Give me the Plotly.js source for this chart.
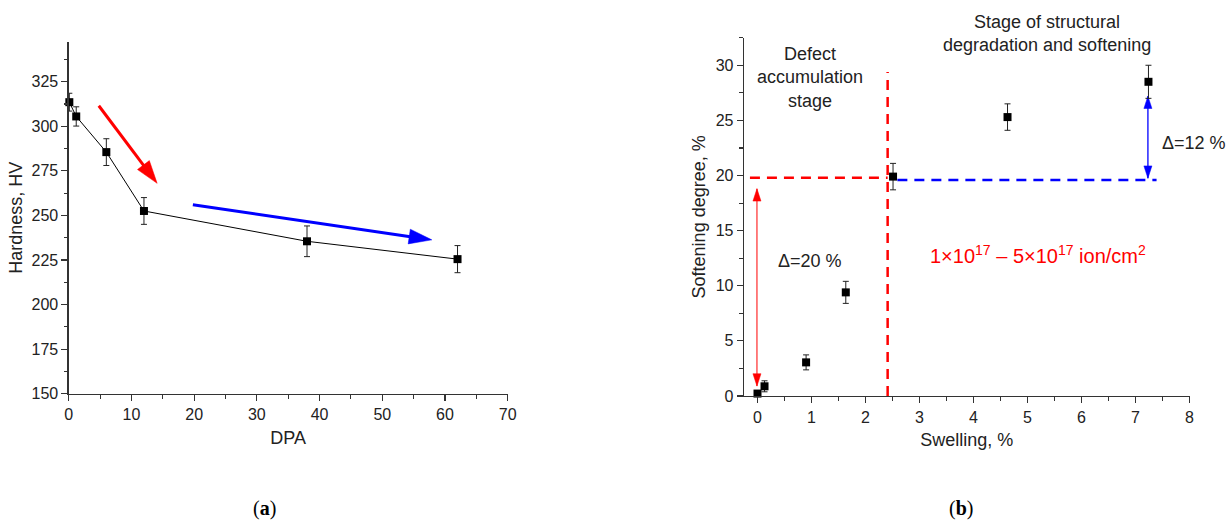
<!DOCTYPE html>
<html>
<head>
<meta charset="utf-8">
<script src="https://cdn.plot.ly/plotly-3.0.1.min.js"></script>
<style>html,body{margin:0;padding:0;background:#fff;}#chart{width:1230px;height:522px;}</style>
</head>
<body>
<div id="chart"></div>
<script>
// ---- Panel (a): Hardness vs DPA ----
const dpa = [0.1, 1.2, 6, 12, 38, 62];
const hardness = [313.5, 305.5, 285.5, 252.5, 235.5, 225.5];
const hardnessErr = [5, 5.4, 7.5, 7.5, 8.6, 7.6];
const redArrowAX = [4.8, 14.1];
const redArrowAY = [311.5, 268];
const blueArrowAX = [19.8, 57.9];
const blueArrowAY = [256, 236.3];

// ---- Panel (b): Softening degree vs Swelling ----
const swelling = [0.0, 0.13, 0.9, 1.635, 2.51, 4.63, 7.24];
const softening = [0.22, 0.88, 3.05, 9.4, 19.9, 25.3, 28.5];
const softeningErr = [0.25, 0.5, 0.68, 1.0, 1.2, 1.2, 1.5];
const redVLineX = [2.41, 2.41], redVLineY = [0, 29.4];
const redHLineX = [-0.14, 2.41], redHLineY = [19.8, 19.8];
const blueHLineX = [2.59, 7.39], blueHLineY = [19.6, 19.6];
const redDeltaX = [-0.01, -0.01], redDeltaY = [0.9, 18.8];
const blueDeltaX = [7.23, 7.23], blueDeltaY = [19.75, 27.2];

const font = 'Liberation Sans, Arial, sans-serif';
const axisCommon = {
  showline: true, linecolor: '#333', linewidth: 1.3, mirror: false,
  ticks: 'outside', ticklen: 6, tickwidth: 1.2, tickcolor: '#333',
  showgrid: false, zeroline: false,
  tickfont: {family: font, size: 16, color: '#222'},
  minor: {ticks: 'outside', ticklen: 3.5, tickwidth: 1.1, tickcolor: '#333'}
};
const titleFont = {family: font, size: 18, color: '#222'};

function arrowTrace(xs, ys, xa, ya, color, width, size) {
  return {
    x: xs, y: ys, xaxis: xa, yaxis: ya, type: 'scatter', mode: 'lines+markers',
    line: {color: color, width: width},
    marker: {symbol: 'arrow', size: [0, size], color: color, opacity: 1, angleref: 'previous', line: {width: 0.5, color: color}},
    opacity: 1, cliponaxis: false, showlegend: false, hoverinfo: 'skip'
  };
}
function doubleArrowTrace(xs, ys, xa, ya, color, width, size) {
  return {
    x: xs, y: ys, xaxis: xa, yaxis: ya, type: 'scatter', mode: 'lines+markers',
    line: {color: color, width: width},
    marker: {symbol: 'arrow', size: size, color: color, opacity: 1, angle: [180, 0], line: {width: 0.5, color: color}},
    opacity: 1, cliponaxis: false, showlegend: false, hoverinfo: 'skip'
  };
}

const traces = [
  {
    x: dpa, y: hardness, xaxis: 'x', yaxis: 'y', type: 'scatter', mode: 'lines+markers',
    line: {color: '#000', width: 1},
    marker: {symbol: 'square', size: 8, color: '#000'},
    error_y: {type: 'data', array: hardnessErr, visible: true, color: '#222', thickness: 1, width: 3},
    cliponaxis: false, showlegend: false
  },
  arrowTrace(redArrowAX, redArrowAY, 'x', 'y', '#ff0000', 3, 24),
  arrowTrace(blueArrowAX, blueArrowAY, 'x', 'y', '#0000ff', 3, 24),
  {
    x: redVLineX, y: redVLineY, xaxis: 'x2', yaxis: 'y2', mode: 'lines',
    line: {color: '#ff0000', width: 2.5, dash: '10px,7px'}, showlegend: false
  },
  {
    x: redHLineX, y: redHLineY, xaxis: 'x2', yaxis: 'y2', mode: 'lines',
    line: {color: '#ff0000', width: 2.5, dash: '10px,7px'}, showlegend: false
  },
  {
    x: blueHLineX, y: blueHLineY, xaxis: 'x2', yaxis: 'y2', mode: 'lines',
    line: {color: '#0000ff', width: 2.5, dash: '10px,7px'}, showlegend: false
  },
  doubleArrowTrace(redDeltaX, redDeltaY, 'x2', 'y2', '#ff0000', 1, 13),
  doubleArrowTrace(blueDeltaX, blueDeltaY, 'x2', 'y2', '#0000ff', 1.3, 13),
  {
    x: swelling, y: softening, xaxis: 'x2', yaxis: 'y2', type: 'scatter', mode: 'markers',
    marker: {symbol: 'square', size: 8, color: '#000'},
    error_y: {type: 'data', array: softeningErr, visible: true, color: '#222', thickness: 1, width: 3},
    cliponaxis: false, showlegend: false
  }
];

const layout = {
  width: 1230, height: 522,
  margin: {l: 0, r: 0, t: 0, b: 0},
  paper_bgcolor: '#fff', plot_bgcolor: '#fff',
  font: {family: font, color: '#222'},
  showlegend: false,
  xaxis: Object.assign({}, axisCommon, {
    domain: [68.7/1230, 507.7/1230], range: [0, 70], dtick: 10,
    minor: Object.assign({}, axisCommon.minor, {dtick: 5}),
    anchor: 'y',
    title: {text: 'DPA', font: titleFont, standoff: 9}
  }),
  yaxis: Object.assign({}, axisCommon, {
    domain: [1 - 393.8/522, 1 - 41.7/522], range: [150, 347.4], dtick: 25, tick0: 150,
    minor: Object.assign({}, axisCommon.minor, {dtick: 12.5}),
    anchor: 'x',
    title: {text: 'Hardness, HV', font: titleFont, standoff: 4}
  }),
  xaxis2: Object.assign({}, axisCommon, {
    domain: [744/1230, 1189.5/1230], range: [-0.25, 8], dtick: 1, tick0: 0,
    minor: Object.assign({}, axisCommon.minor, {dtick: 0.5}),
    anchor: 'y2',
    title: {text: 'Swelling, %', font: titleFont, standoff: 9}
  }),
  yaxis2: Object.assign({}, axisCommon, {
    domain: [1 - 396/522, 1 - 37.7/522], range: [0, 32.5], dtick: 5, tick0: 0,
    minor: Object.assign({}, axisCommon.minor, {dtick: 2.5}),
    anchor: 'x2',
    title: {text: 'Softening degree, %', font: titleFont, standoff: 5}
  }),
  annotations: [
    {xref: 'x2', yref: 'y2', x: 0.97, y: 28.9, showarrow: false, xanchor: 'center', yanchor: 'middle',
     text: 'Defect<br>accumulation<br>stage', font: {family: font, size: 18, color: '#222'}},
    {xref: 'x2', yref: 'paper', x: 5.37, y: 1 - 33.3/522, showarrow: false, xanchor: 'center', yanchor: 'middle',
     text: 'Stage of structural<br>degradation and softening', font: {family: font, size: 18, color: '#222'}},
    {xref: 'x2', yref: 'y2', x: 0.97, y: 12.23, showarrow: false, xanchor: 'center', yanchor: 'middle',
     text: 'Δ=20 %', font: {family: font, size: 18, color: '#222'}},
    {xref: 'x2', yref: 'y2', x: 7.46, y: 22.94, showarrow: false, xanchor: 'left', yanchor: 'middle',
     text: 'Δ=12 %', font: {family: font, size: 18, color: '#222'}},
    {xref: 'x2', yref: 'y2', x: 5.2, y: 12.8, showarrow: false, xanchor: 'center', yanchor: 'middle',
     text: '1×10<sup>17</sup> – 5×10<sup>17</sup> ion/cm<sup>2</sup>', font: {family: font, size: 20, color: '#ff0000'}},
    {xref: 'paper', yref: 'paper', x: 264/1230, y: 1 - 508/522, showarrow: false, xanchor: 'center', yanchor: 'middle',
     text: '(<b>a</b>)', font: {family: 'Liberation Serif, serif', size: 20, color: '#000'}},
    {xref: 'paper', yref: 'paper', x: 961/1230, y: 1 - 508/522, showarrow: false, xanchor: 'center', yanchor: 'middle',
     text: '(<b>b</b>)', font: {family: 'Liberation Serif, serif', size: 20, color: '#000'}}
  ]
};

Plotly.newPlot('chart', traces, layout, {staticPlot: true, displayModeBar: false});
</script>
</body>
</html>
